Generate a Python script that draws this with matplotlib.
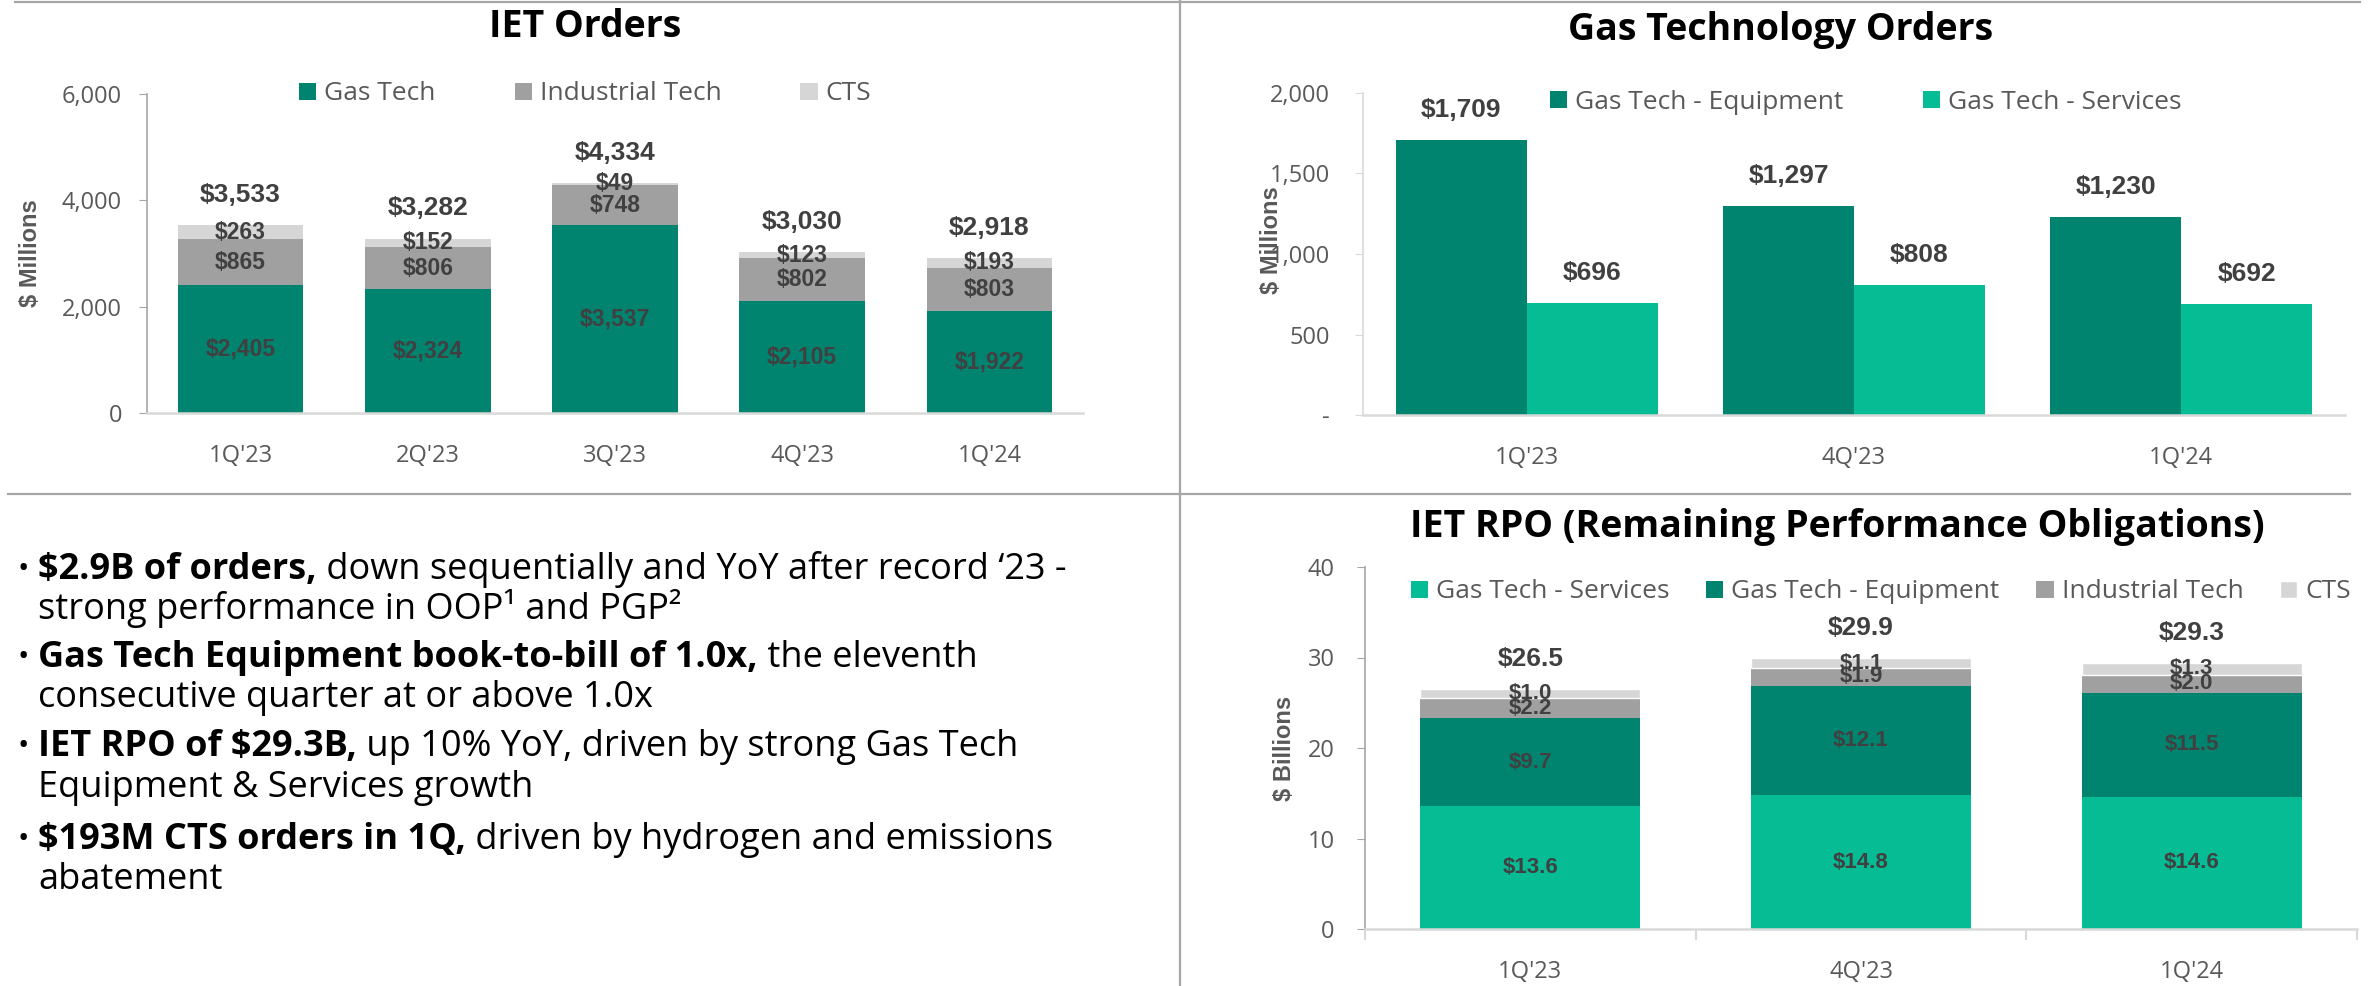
import matplotlib.pyplot as plt
import numpy as np
from matplotlib.lines import Line2D
from matplotlib.ticker import FuncFormatter

plt.rcParams['text.parse_math'] = False
plt.rcParams['font.family'] = ['Open Sans', 'DejaVu Sans']

# ---- data ----
iet_quarters = ["1Q'23", "2Q'23", "3Q'23", "4Q'23", "1Q'24"]
iet_gas_tech = [2405, 2324, 3537, 2105, 1922]
iet_industrial = [865, 806, 748, 802, 803]
iet_cts = [263, 152, 49, 123, 193]

gt_quarters = ["1Q'23", "4Q'23", "1Q'24"]
gt_equipment = [1709, 1297, 1230]
gt_services = [696, 808, 692]

rpo_quarters = ["1Q'23", "4Q'23", "1Q'24"]
rpo_services = [13.6, 14.8, 14.6]
rpo_equipment = [9.7, 12.1, 11.5]
rpo_industrial = [2.2, 1.9, 2.0]
rpo_cts = [1.0, 1.1, 1.3]
rpo_totals = [26.5, 29.9, 29.3]

bullets = [
    ("$2.9B of orders,", " down sequentially and YoY after record \u201823 -",
     "strong performance in OOP\u00b9 and PGP\u00b2"),
    ("Gas Tech Equipment book-to-bill of 1.0x,", " the eleventh",
     "consecutive quarter at or above 1.0x"),
    ("IET RPO of $29.3B,", " up 10% YoY, driven by strong Gas Tech",
     "Equipment & Services growth"),
    ("$193M CTS orders in 1Q,", " driven by hydrogen and emissions",
     "abatement"),
]

# ---- style ----
DARK = '#00846F'
BRIGHT = '#05BC94'
GRAY = '#A0A0A0'
LIGHT = '#D6D6D6'
LABEL = '#404040'
TICK = '#595959'
ARIAL = ['Liberation Sans', 'DejaVu Sans']

W, H = 2374, 986
fig = plt.figure(figsize=(W / 100, H / 100), dpi=100)


def add_ax(left, right, top, bottom):
    return fig.add_axes([left / W, 1 - bottom / H, (right - left) / W, (bottom - top) / H])


def style_axis(ax, yspine='#A6A6A6'):
    for s in ['top', 'right']:
        ax.spines[s].set_visible(False)
    ax.spines['left'].set_color(yspine)
    ax.spines['left'].set_linewidth(1.2)
    ax.spines['bottom'].set_color('#D9D9D9')
    ax.spines['bottom'].set_linewidth(1.8)
    ax.tick_params(axis='y', length=6, color=yspine, labelsize=17, labelcolor=TICK, pad=12)
    ax.tick_params(axis='x', length=0, labelsize=17, labelcolor=TICK, pad=22)


def comma(v, _):
    return f"{v:,.0f}"


legend_kw = dict(frameon=False, fontsize=19, labelcolor=TICK, handlelength=0.65,
                 handleheight=0.6, handletextpad=0.3)

# ---- IET Orders ----
ax1 = add_ax(147, 1083, 94, 413)
x = np.arange(len(iet_quarters))
b1 = ax1.bar(x, iet_gas_tech, 0.67, color=DARK, label='Gas Tech')
b2 = ax1.bar(x, iet_industrial, 0.67, bottom=iet_gas_tech, color=GRAY, label='Industrial Tech')
top1 = np.array(iet_gas_tech) + np.array(iet_industrial)
b3 = ax1.bar(x, iet_cts, 0.67, bottom=top1, color=LIGHT, label='CTS')
for c, vals in [(b1, iet_gas_tech), (b2, iet_industrial), (b3, iet_cts)]:
    ax1.bar_label(c, labels=[f"${v:,}" for v in vals], label_type='center',
                  fontsize=16.5, fontweight='bold', color=LABEL, family=ARIAL)
totals1 = top1 + np.array(iet_cts)
ax1.bar_label(b3, labels=[f"${v:,}" for v in totals1], padding=13,
              fontsize=19, fontweight='bold', color=LABEL, family=ARIAL)
ax1.set_xlim(-0.5, len(x) - 0.5)
ax1.set_ylim(0, 6000)
ax1.set_yticks([0, 2000, 4000, 6000])
ax1.yaxis.set_major_formatter(FuncFormatter(comma))
ax1.set_xticks(x, iet_quarters)
style_axis(ax1)
ax1.set_ylabel('$ Millions', fontsize=17, fontweight='bold', color=TICK, family=ARIAL)
ax1.yaxis.set_label_coords(-0.112, 0.5)
ax1.legend(loc='center', bbox_to_anchor=(0.468, 1.0), ncol=3, columnspacing=3.0, **legend_kw)
fig.text(585 / W, 1 - 27 / H, 'IET Orders', ha='center', va='center',
         fontsize=27, fontweight='bold', color='black')

# ---- Gas Technology Orders ----
ax2 = add_ax(1363, 2345, 93, 415)
x2 = np.arange(len(gt_quarters))
e = ax2.bar(x2 - 0.2, gt_equipment, 0.4, color=DARK, label='Gas Tech - Equipment')
s = ax2.bar(x2 + 0.2, gt_services, 0.4, color=BRIGHT, label='Gas Tech - Services')
for c, vals in [(e, gt_equipment), (s, gt_services)]:
    ax2.bar_label(c, labels=[f"${v:,}" for v in vals], padding=13,
                  fontsize=19, fontweight='bold', color=LABEL, family=ARIAL)
ax2.set_xlim(-0.5, len(x2) - 0.5)
ax2.set_ylim(0, 2000)
ax2.set_yticks([0, 500, 1000, 1500, 2000])
ax2.yaxis.set_major_formatter(FuncFormatter(lambda v, _: '-' if v == 0 else f"{v:,.0f}"))
ax2.set_xticks(x2, gt_quarters)
style_axis(ax2, yspine='#D9D9D9')
ax2.tick_params(axis='y', pad=18)
ax2.set_ylabel('$ Millions', fontsize=17, fontweight='bold', color=TICK, family=ARIAL)
ax2.yaxis.set_label_coords(-0.0815, 0.543)
ax2.legend(loc='center', bbox_to_anchor=(0.512, 0.972), ncol=2, columnspacing=3.0, **legend_kw)
fig.text(1781 / W, 1 - 30 / H, 'Gas Technology Orders', ha='center', va='center',
         fontsize=27, fontweight='bold', color='black')

# ---- IET RPO ----
ax3 = add_ax(1365, 2357, 567, 929)
x3 = np.arange(len(rpo_quarters))
r1 = ax3.bar(x3, rpo_services, 0.665, color=BRIGHT, label='Gas Tech - Services')
r2 = ax3.bar(x3, rpo_equipment, 0.665, bottom=rpo_services, color=DARK, label='Gas Tech - Equipment')
base3 = np.array(rpo_services) + np.array(rpo_equipment)
r3 = ax3.bar(x3, rpo_industrial, 0.665, bottom=base3, color=GRAY, label='Industrial Tech')
base4 = base3 + np.array(rpo_industrial)
r4 = ax3.bar(x3, rpo_cts, 0.665, bottom=base4, color=LIGHT, label='CTS',
             edgecolor='white', linewidth=1.0)
for c, vals in [(r1, rpo_services), (r2, rpo_equipment), (r3, rpo_industrial), (r4, rpo_cts)]:
    ax3.bar_label(c, labels=[f"${v:.1f}" for v in vals], label_type='center',
                  fontsize=16, fontweight='bold', color=LABEL, family=ARIAL)
ax3.bar_label(r4, labels=[f"${v:.1f}" for v in rpo_totals], padding=13,
              fontsize=19, fontweight='bold', color=LABEL, family=ARIAL)
ax3.set_xlim(-0.5, len(x3) - 0.5)
ax3.set_ylim(0, 40)
ax3.set_yticks([0, 10, 20, 30, 40])
ax3.set_xticks(x3, rpo_quarters)
ax3.set_xticks(np.arange(-0.5, len(x3)), minor=True)
style_axis(ax3)
ax3.tick_params(axis='x', which='minor', length=8, color='#D9D9D9', width=1.5)
ax3.tick_params(axis='y', pad=16)
ax3.set_ylabel('$ Billions', fontsize=17, fontweight='bold', color=TICK, family=ARIAL)
ax3.yaxis.set_label_coords(-0.07, 0.5)
ax3.legend(loc='center', bbox_to_anchor=(0.52, 0.931), ncol=4, columnspacing=1.4, **legend_kw)
fig.text(1837 / W, 1 - 527 / H, 'IET RPO (Remaining Performance Obligations)',
         ha='center', va='center', fontsize=27, fontweight='bold', color='black')

# ---- dividers ----
for xs, ys in [([15, 2360], [2, 2]), ([8, 2350], [494, 494]), ([1180, 1180], [0, 986])]:
    fig.add_artist(Line2D([v / W for v in xs], [1 - v / H for v in ys],
                          color='#A6A6A6', linewidth=1.6))

# ---- bullet text ----
line_y = [(570, 608), (658, 698), (747, 788), (840, 880)]
renderer = fig.canvas.get_renderer()
for (bold, rest, cont), (y1, y2) in zip(bullets, line_y):
    fig.text(17 / W, 1 - y1 / H, '\u2022', ha='left', va='center', fontsize=22, color='black')
    t = fig.text(38 / W, 1 - y1 / H, bold, ha='left', va='center', fontsize=26,
                 fontweight='bold', color='black')
    x_end = t.get_window_extent(renderer).x1
    fig.text(x_end / W, 1 - y1 / H, rest, ha='left', va='center', fontsize=26, color='black')
    fig.text(38 / W, 1 - y2 / H, cont, ha='left', va='center', fontsize=26, color='black')

fig.savefig('out.png', dpi=100)
